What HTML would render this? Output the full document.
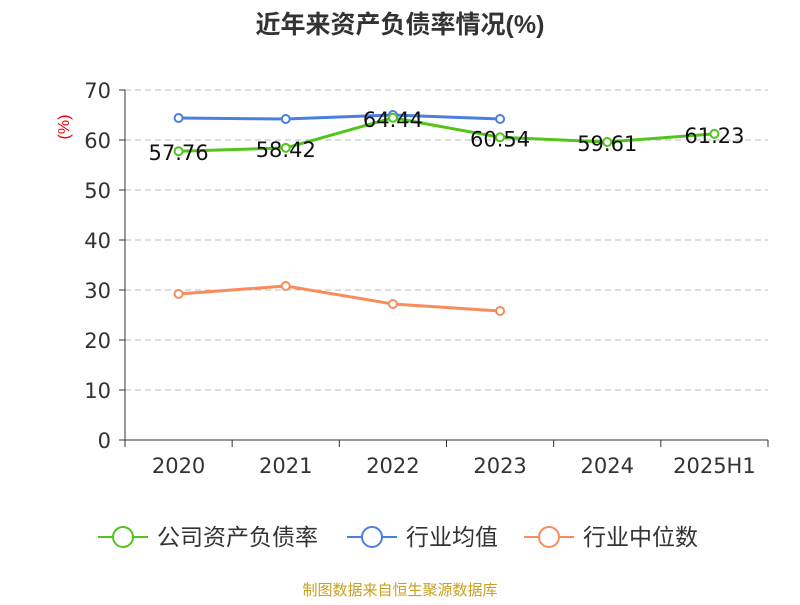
<!DOCTYPE html>
<html><head><meta charset="utf-8"><style>
body{margin:0;background:#fff;font-family:"Liberation Sans","Noto Sans CJK SC",sans-serif}
</style></head><body>
<svg id="c" width="800" height="600" xmlns="http://www.w3.org/2000/svg" font-family="Liberation Sans, Noto Sans CJK SC, sans-serif">
<text x="400" y="33" text-anchor="middle" font-size="25" font-weight="bold" fill="#333">近年来资产负债率情况(%)</text>
<text x="69" y="127" text-anchor="middle" font-size="16" fill="#e00" transform="rotate(-90 69 127)">(%)</text>
<g id="grid"></g><g id="axes"></g><g id="series"></g>
<g>
<g><line x1="98" y1="537" x2="148" y2="537" stroke="#52c41a" stroke-width="2"/><circle cx="123" cy="537" r="10" fill="#fff" stroke="#52c41a" stroke-width="2"/><text x="157" y="545" font-size="23" fill="#333">公司资产负债率</text></g>
<g><line x1="347" y1="537" x2="397" y2="537" stroke="#4a7fe0" stroke-width="2"/><circle cx="372" cy="537" r="10" fill="#fff" stroke="#4a7fe0" stroke-width="2"/><text x="406" y="545" font-size="23" fill="#333">行业均值</text></g>
<g><line x1="524" y1="537" x2="574" y2="537" stroke="#f98c5a" stroke-width="2"/><circle cx="549" cy="537" r="10" fill="#fff" stroke="#f98c5a" stroke-width="2"/><text x="583" y="545" font-size="23" fill="#333">行业中位数</text></g>
</g>
<text x="400" y="595" text-anchor="middle" font-size="15" fill="#c8a020">制图数据来自恒生聚源数据库</text>
</svg>
<script>
const categories=["2020","2021","2022","2023","2024","2025H1"];
const companyValues=[57.76,58.42,64.44,60.54,59.61,61.23];
const avgValues=[64.4,64.2,65.0,64.2];
const medianValues=[29.2,30.8,27.2,25.8];
const yTicks=[0,10,20,30,40,50,60,70];
const NS="http://www.w3.org/2000/svg";
const x0=125,x1=768,y0=440,y1=90;
const bw=(x1-x0)/categories.length;
const X=i=>x0+bw*(i+0.5);
const Y=v=>y0-(v/70)*(y0-y1);
const F="DejaVu Sans, sans-serif";
function mk(p,t,a){const e=document.createElementNS(NS,t);for(const k in a)e.setAttribute(k,a[k]);p.appendChild(e);return e;}
const grid=document.getElementById('grid'),axes=document.getElementById('axes'),ser=document.getElementById('series');
yTicks.forEach(t=>{
 if(t>0){const g=mk(grid,'line',{x1:x0,x2:x1,y1:Y(t),y2:Y(t),stroke:'#bbb','stroke-dasharray':'6,4'});
 
 }
 const tk=mk(axes,'line',{x1:x0-6,x2:x0,y1:Y(t),y2:Y(t),stroke:'#333'});
 
 
 const l=mk(axes,'text',{x:x0-14,y:Y(t)+8,'text-anchor':'end','font-size':'21','font-family':F,fill:'#333'});l.textContent=t;
 
 
});
const ya=mk(axes,'line',{x1:x0,x2:x0,y1:y1,y2:y0,stroke:'#333'});


const xa=mk(axes,'line',{x1:x0,x2:x1,y1:y0,y2:y0,stroke:'#333'});


for(let i=0;i<=categories.length;i++){const t=mk(axes,'line',{x1:x0+bw*i,x2:x0+bw*i,y1:y0,y2:y0+7,stroke:'#333'});
 
 }
categories.forEach((c,i)=>{const l=mk(axes,'text',{x:X(i),y:y0+33,'text-anchor':'middle','font-size':'21','font-family':F,fill:'#333'});l.textContent=c;
 
 });
function series(vals,color,name,labels){
 const g=mk(ser,'g',{});
 
 
 const pl=mk(g,'polyline',{points:vals.map((v,i)=>X(i)+','+Y(v)).join(' '),fill:'none',stroke:color,'stroke-width':3});
 
 
 vals.forEach((v,i)=>{const p=mk(g,'circle',{cx:X(i),cy:Y(v),r:4,fill:'#fff',stroke:color,'stroke-width':2});
  
  
  if(labels){const t=mk(g,'text',{x:X(i),y:Y(v)+9,'text-anchor':'middle','font-size':'21','font-family':F,fill:'#111'});t.textContent=v.toFixed(2);
   
   }});
}
series(avgValues,'#4a7fe0','industry-average-series',false);
series(medianValues,'#f98c5a','industry-median-series',false);
series(companyValues,'#52c41a','company-series',true);
</script>
</body></html>
